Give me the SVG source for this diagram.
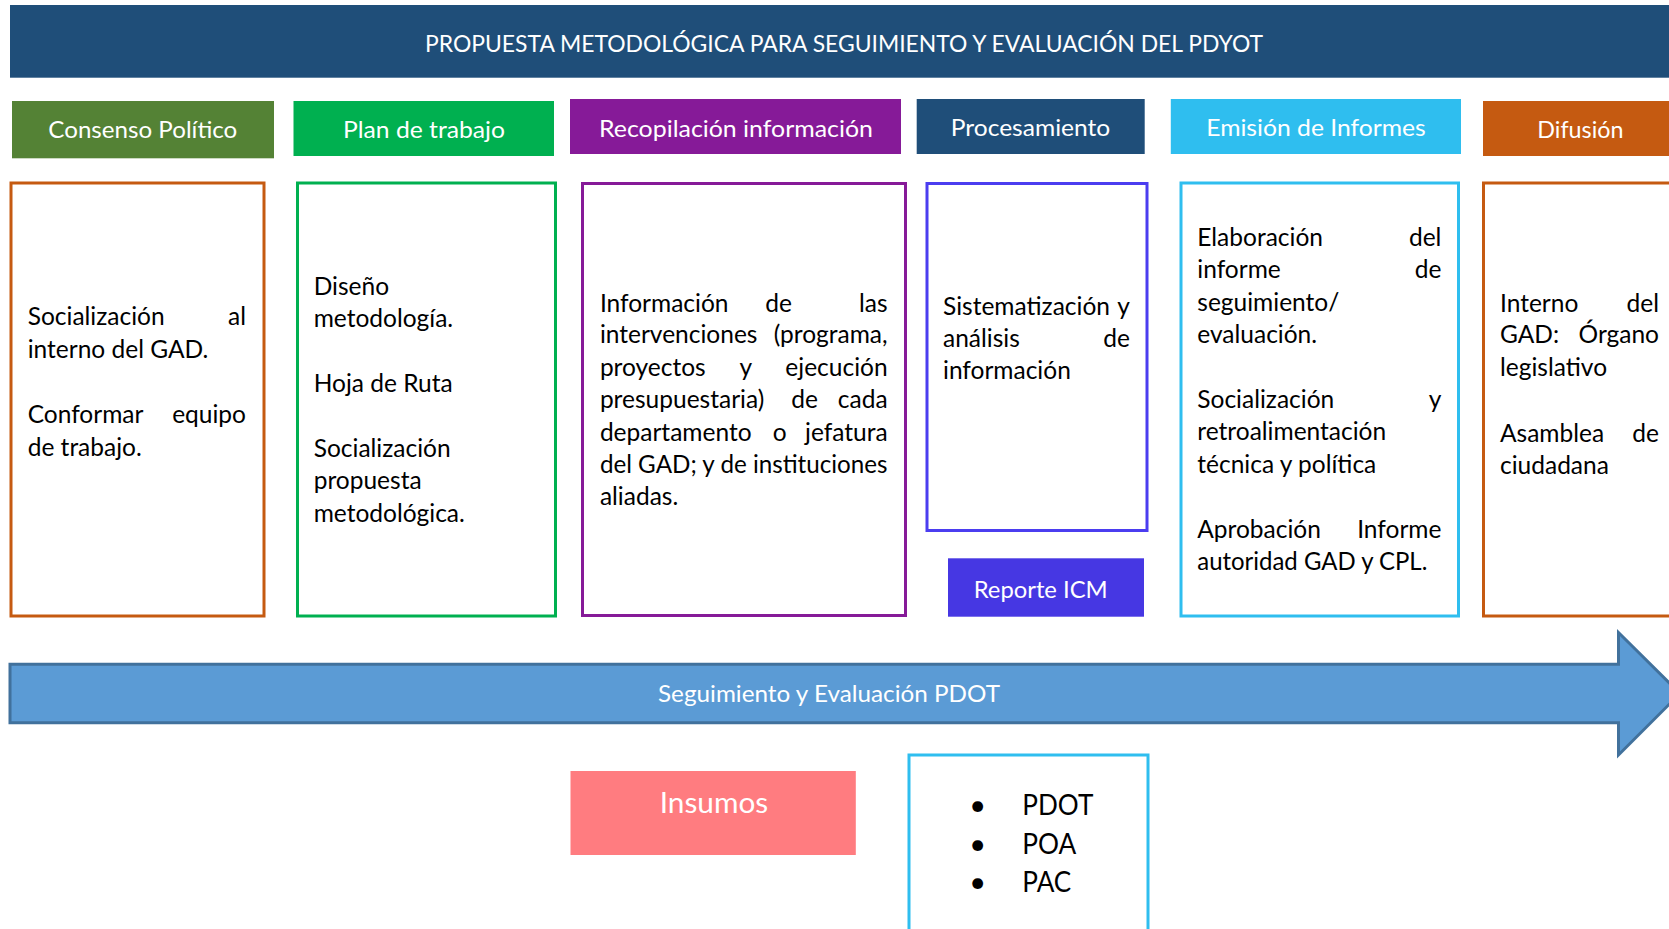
<svg xmlns="http://www.w3.org/2000/svg" width="1669" height="929" viewBox="0 0 1669 929">
<style>
  text { font-family: Lato, "Open Sans", "Liberation Sans", sans-serif; }
  .hd { font-size: 24px; fill: #ffffff; text-anchor: middle; }
  .bd { font-size: 24.5px; fill: #000000; }
  .r { text-anchor: end; }
  .m { text-anchor: middle; }
  .big { font-size: 29px; }
  .box { fill: #ffffff; stroke-width: 3; }
</style>
<rect width="1669" height="929" fill="#ffffff"/>

<g id="title">
  <rect x="10" y="5" width="1680" height="72.7" fill="#1F4E79"/>
  <text class="hd" x="844" y="51.5" textLength="838" lengthAdjust="spacingAndGlyphs">PROPUESTA METODOLÓGICA PARA SEGUIMIENTO Y EVALUACIÓN DEL PDYOT</text>
</g>

<g id="h-consenso">
  <rect x="12" y="101" width="262" height="57.3" fill="#548235"/>
  <text class="hd" x="142.8" y="138.3" textLength="189" lengthAdjust="spacingAndGlyphs">Consenso Político</text>
</g>
<g id="h-plan">
  <rect x="293.5" y="101" width="260.5" height="55" fill="#00B050"/>
  <text class="hd" x="424" y="138" textLength="162" lengthAdjust="spacingAndGlyphs">Plan de trabajo</text>
</g>
<g id="h-recopilacion">
  <rect x="570" y="99" width="331" height="55" fill="#861A98"/>
  <text class="hd" x="736" y="136.5" textLength="274" lengthAdjust="spacingAndGlyphs">Recopilación información</text>
</g>
<g id="h-procesamiento">
  <rect x="916.7" y="99" width="228" height="55" fill="#1F4E79"/>
  <text class="hd" x="1030.5" y="136" textLength="159.5" lengthAdjust="spacingAndGlyphs">Procesamiento</text>
</g>
<g id="h-emision">
  <rect x="1170.8" y="99" width="290.2" height="55" fill="#2FBEEF"/>
  <text class="hd" x="1316" y="136" textLength="219.5" lengthAdjust="spacingAndGlyphs">Emisión de Informes</text>
</g>
<g id="h-difusion">
  <rect x="1483" y="101" width="210" height="55" fill="#C55A11"/>
  <text class="hd" x="1580.4" y="138.3" textLength="86.2" lengthAdjust="spacingAndGlyphs">Difusión</text>
</g>

<g id="b-consenso">
  <rect class="box" x="11" y="183" width="253" height="433" stroke="#C55A11"/>
  <text class="bd" x="27.7" y="325">Socialización</text>
  <text class="bd r" x="246" y="325">al</text>
  <text class="bd" x="27.7" y="357.7">interno del GAD.</text>
  <text class="bd" x="27.7" y="423">Conformar</text>
  <text class="bd r" x="246" y="423">equipo</text>
  <text class="bd" x="27.7" y="455.7">de trabajo.</text>
</g>

<g id="b-plan">
  <rect class="box" x="297.5" y="183" width="258" height="433" stroke="#00B050"/>
  <text class="bd" x="313.7" y="295">Diseño</text>
  <text class="bd" x="313.7" y="327.3">metodología.</text>
  <text class="bd" x="313.7" y="392.3">Hoja de Ruta</text>
  <text class="bd" x="313.7" y="457.3">Socialización</text>
  <text class="bd" x="313.7" y="489.3">propuesta</text>
  <text class="bd" x="313.7" y="521.7">metodológica.</text>
</g>

<g id="b-recopilacion">
  <rect class="box" x="582.5" y="183.5" width="323" height="432" stroke="#861A98"/>
  <text class="bd" x="599.9" y="311.7">Información</text>
  <text class="bd" x="765.2" y="311.7">de</text>
  <text class="bd r" x="887.6" y="311.7">las</text>
  <text class="bd" x="599.9" y="343.3">intervenciones</text>
  <text class="bd r" x="887.6" y="343.3">(programa,</text>
  <text class="bd" x="599.9" y="375.7">proyectos</text>
  <text class="bd" x="739.5" y="375.7">y</text>
  <text class="bd r" x="887.6" y="375.7">ejecución</text>
  <text class="bd" x="599.9" y="408.3">presupuestaria)</text>
  <text class="bd" x="791.2" y="408.3">de</text>
  <text class="bd r" x="887.6" y="408.3">cada</text>
  <text class="bd" x="599.9" y="440.7">departamento</text>
  <text class="bd" x="772.8" y="440.7">o</text>
  <text class="bd r" x="887.6" y="440.7">jefatura</text>
  <text class="bd" x="599.9" y="473.3" textLength="287.7" lengthAdjust="spacingAndGlyphs">del GAD; y de instituciones</text>
  <text class="bd" x="599.9" y="505">aliadas.</text>
</g>

<g id="b-procesamiento">
  <rect class="box" x="927" y="183.5" width="220" height="347" stroke="#4B3DF0"/>
  <text class="bd" x="943" y="315">Sistematización</text>
  <text class="bd r" x="1130" y="315">y</text>
  <text class="bd" x="943" y="346.7">análisis</text>
  <text class="bd r" x="1130" y="346.7">de</text>
  <text class="bd" x="943" y="379.3">información</text>
</g>

<g id="reporte-icm">
  <rect x="948" y="558.3" width="196" height="58.4" fill="#4637E3"/>
  <text class="hd" x="1040.7" y="598" textLength="134" lengthAdjust="spacingAndGlyphs">Reporte ICM</text>
</g>

<g id="b-emision">
  <rect class="box" x="1181" y="183" width="277.5" height="433" stroke="#2FBEEF"/>
  <text class="bd" x="1197.3" y="246">Elaboración</text>
  <text class="bd r" x="1441.4" y="246">del</text>
  <text class="bd" x="1197.3" y="278.4">informe</text>
  <text class="bd r" x="1441.4" y="278.4">de</text>
  <text class="bd" x="1197.3" y="310.8">seguimiento/</text>
  <text class="bd" x="1197.3" y="343.2">evaluación.</text>
  <text class="bd" x="1197.3" y="408">Socialización</text>
  <text class="bd r" x="1441.4" y="408">y</text>
  <text class="bd" x="1197.3" y="440.4">retroalimentación</text>
  <text class="bd" x="1197.3" y="472.8">técnica y política</text>
  <text class="bd" x="1197.3" y="537.6">Aprobación</text>
  <text class="bd r" x="1441.4" y="537.6">Informe</text>
  <text class="bd" x="1197.3" y="570" textLength="230" lengthAdjust="spacingAndGlyphs">autoridad GAD y CPL.</text>
</g>

<g id="b-difusion">
  <rect class="box" x="1483.5" y="183" width="250" height="433" stroke="#C55A11"/>
  <text class="bd" x="1500" y="311.7">Interno</text>
  <text class="bd r" x="1659" y="311.7">del</text>
  <text class="bd" x="1500" y="343.3">GAD:</text>
  <text class="bd r" x="1659" y="343.3">Órgano</text>
  <text class="bd" x="1500" y="375.7">legislativo</text>
  <text class="bd" x="1500" y="441.7">Asamblea</text>
  <text class="bd r" x="1659" y="441.7">de</text>
  <text class="bd" x="1500" y="474">ciudadana</text>
</g>

<g id="connectors">
  <g id="arrow-seguimiento">
    <polygon points="10,664.2 1618.5,664.2 1618.5,632.5 1680,693.5 1618.5,755 1618.5,722.8 10,722.8" fill="#5B9BD5" stroke="#41719C" stroke-width="3" stroke-linejoin="miter"/>
    <text class="hd" x="829" y="701.7" textLength="342" lengthAdjust="spacingAndGlyphs">Seguimiento y Evaluación PDOT</text>
  </g>
</g>

<g id="insumos">
  <rect x="570.5" y="771" width="285.3" height="84" fill="#FF7C80"/>
  <text class="hd big" x="714" y="812.7" textLength="108.5" lengthAdjust="spacingAndGlyphs">Insumos</text>
</g>

<g id="lista-insumos">
  <rect class="box" x="909" y="755" width="239" height="200" stroke="#2FBEEF"/>
  <text class="bd big m" x="977.7" y="815">•</text>
  <text class="bd big" x="1022.3" y="815" textLength="71" lengthAdjust="spacingAndGlyphs">PDOT</text>
  <text class="bd big m" x="977.7" y="853.5">•</text>
  <text class="bd big" x="1022.3" y="853.5" textLength="54" lengthAdjust="spacingAndGlyphs">POA</text>
  <text class="bd big m" x="977.7" y="892">•</text>
  <text class="bd big" x="1022.3" y="892" textLength="49" lengthAdjust="spacingAndGlyphs">PAC</text>
</g>
</svg>
